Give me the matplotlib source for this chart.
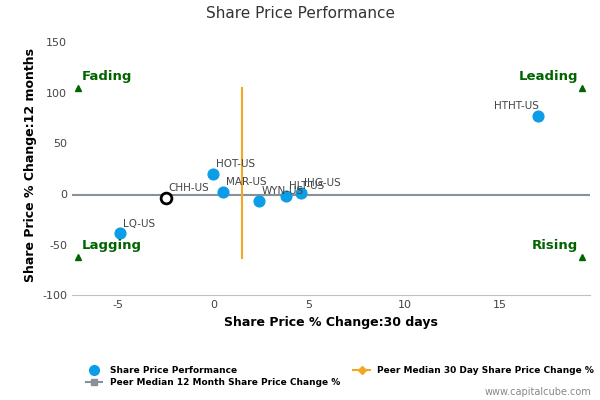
import matplotlib
matplotlib.use("Agg")
import matplotlib.pyplot as plt
from matplotlib.lines import Line2D
plt.rcParams["axes.unicode_minus"] = False

tickers = ["HTHT-US", "HOT-US", "MAR-US", "WYN-US", "HLT-US", "IHG-US", "LQ-US"]
x30 = [17.0, 0.0, 0.5, 2.4, 3.8, 4.6, -4.9]
y12 = [77, 20, 2, -7, -2, 1, -39]
focus = "CHH-US"
focus_x, focus_y = -2.5, -4
peer_x = 1.5
peer_y = -1
peer_v_range = [-63, 105]
xlim = [-7.4, 19.7]
ylim = [-100, 157]

fig = plt.figure(figsize=(6, 4), dpi=100)
ax = fig.add_axes([0.12, 0.262, 0.863, 0.65])
ax.set_xlim(*xlim); ax.set_ylim(*ylim)
ax.axhline(peer_y, color="#8a9099", lw=1.5, zorder=1)
ax.plot([peer_x, peer_x], peer_v_range, color="#f5a623", lw=1.5, zorder=1)
ax.scatter(x30, y12, s=60, color="#0b9de8", zorder=3)
ax.scatter([focus_x], [focus_y], s=60, facecolor="white", edgecolor="black", lw=2, zorder=4)
for t, a, b in zip(tickers, x30, y12):
    ax.annotate(t, (a, b), xytext=(-32 if t == "HTHT-US" else 2, 5), textcoords="offset points",
                fontsize=7.5, color="#444444")
ax.annotate(focus, (focus_x, focus_y), xytext=(2, 5), textcoords="offset points", fontsize=7.5, color="#444444")

g = "#006400"
for (px, py, lab, ha) in [(-7.1, 105, "Fading", "left"), (19.3, 105, "Leading", "right"),
                          (-7.1, -62, "Lagging", "left"), (19.3, -62, "Rising", "right")]:
    ax.plot(px, py, marker="^", color=g, ms=5)
    ax.text(px + (0.2 if ha == "left" else -0.2), py + 5, lab, ha=ha, va="bottom",
            color=g, fontsize=9.5, fontweight="bold")

ax.set_xticks([-5, 0, 5, 10, 15]); ax.set_yticks([-100, -50, 0, 50, 100, 150])
ax.tick_params(labelsize=8, colors="#444444", length=0)
for s in ["top", "right"]:
    ax.spines[s].set_visible(False)
ax.spines["left"].set_visible(False)
ax.spines["bottom"].set_color("#c0c0c0")
ax.set_xlabel("Share Price % Change:30 days", fontsize=9, fontweight="bold")
ax.set_ylabel("Share Price % Change:12 months", fontsize=9, fontweight="bold")
fig.text(0.5, 0.955, "Share Price Performance", ha="center", fontsize=11, color="#333333")

h = [Line2D([], [], marker="o", ls="", color="#0b9de8", ms=7),
     Line2D([], [], marker="s", color="#8a9099", ms=5),
     Line2D([], [], marker="D", color="#f5a623", ms=4)]
fig.legend(h, ["Share Price Performance", "Peer Median 12 Month Share Price Change %",
               "Peer Median 30 Day Share Price Change %"], loc="upper left",
           bbox_to_anchor=(0.13, 0.105), ncol=2, frameon=False,
           handlelength=1.8, columnspacing=1.5, labelspacing=0.3, prop={"weight": "bold", "size": 6.5})
fig.text(0.985, 0.012, "www.capitalcube.com", ha="right", fontsize=7, color="#888888")
fig.savefig("out.png", dpi=100)
